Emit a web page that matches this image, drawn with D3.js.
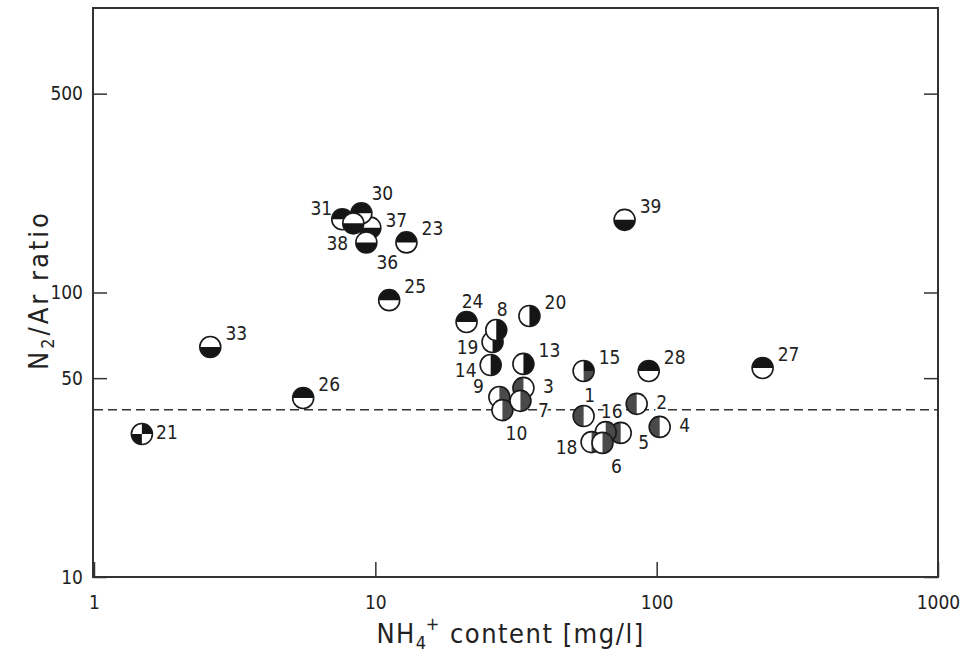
<!DOCTYPE html>
<html>
<head>
<meta charset="utf-8">
<script src="https://cdn.jsdelivr.net/npm/d3@7"></script>
<style>
  body { margin: 0; background: #fff; }
  svg text { font-family: "DejaVu Sans Condensed", "DejaVu Sans", sans-serif; font-stretch: condensed; fill: #222; }
</style>
</head>
<body>
<div id="chart"></div>
<script>
// sample numbers, in draw order (later ones sit on top)
var ids    = ["21","33","26","25","23","37","31","30","38","36","39","24","19","8","20","14","13","9","3","10","7","15","28","27","1","2","4","5","16","18","6"];
// NH4+ content [mg/l]
var nh4    = [1.48, 2.59, 5.54, 11.2, 12.9, 9.6, 7.63, 8.92, 8.35, 9.29, 76.9, 21.1, 26.1, 26.9, 35.3, 25.7, 33.6, 27.6, 33.6, 28.3, 32.8, 55, 93.7, 238, 55, 84.9, 102.5, 74.5, 65.9, 58.7, 64.2];
// N2/Ar ratio
var n2ar   = [31.8, 64.3, 42.6, 94, 150, 169, 181, 190, 175, 150, 180, 78.8, 67, 73.8, 82.7, 55.6, 56.1, 42.9, 46.2, 38.6, 41.6, 53, 53, 54.3, 36.8, 40.6, 33.7, 32.1, 32.3, 29.8, 29.6];
// symbol group of each sample
var groups = ["check","bottom","top","top","top","bottom","top","top","bottom","bottom","bottom","top","right","right","right","right","right","rightGray","leftGray","rightGray","rightGray","rightMix","top","top","leftGray","leftGray","leftGray","leftGray","rightGray","rightGray","rightGray"];
// where the number sits next to its symbol
var labelSide = ["e","ne","ne","ne","ne","ene","nw","nne","sw","se","ne","n","w","n","ne","w","ne","nw","e","s","ese","ne","ne","ne","n","e","e","ese","n","w","s"];

var xTicks = [1, 10, 100, 1000];
var yTicks = [10, 50, 100, 500];
var airLevel = 38.7;   // dashed reference line

var chart_width = 967, chart_height = 659;
var plotLeft = 93, plotRight = 938, plotTop = 8, plotBottom = 577;
var black = "#151515", gray = "#4a4a4a";
var PI = Math.PI;

// filled parts of each symbol: [start angle, end angle, colour]
var symbolParts = {
    top:       [[-PI/2, PI/2, black]],
    bottom:    [[PI/2, 3*PI/2, black]],
    right:     [[0, PI, black]],
    rightGray: [[0, PI, gray]],
    leftGray:  [[PI, 2*PI, gray]],
    check:     [[0, PI/2, black], [PI, 3*PI/2, black]],
    rightMix:  [[0, PI/2, black], [PI/2, PI, gray]]
};
var sideOffset = {
    e: [25, -2], ene: [26, -8], ne: [26, -14], nne: [21, -20], n: [6, -21], nw: [-21, -11],
    w: [-25, 5], sw: [-16, 20], se: [21, 20], s: [14, 23], ese: [23, 9]
};

var data = ids.map(function(id, i){
    return { id: id, x: nh4[i], y: n2ar[i], group: groups[i], side: labelSide[i] };
});

var svg = d3.select("#chart").append("svg")
    .attr("width", chart_width)
    .attr("height", chart_height);

var x = d3.scaleLog().domain([1, 1000]).range([plotLeft + 1, plotRight]);
var y = d3.scaleLog().domain([10, 1000]).range([plotBottom, plotTop]);

// axes (ticks point inward)
svg.append("g")
    .attr("transform", "translate(0," + plotBottom + ")")
    .call(d3.axisBottom(x).tickValues(xTicks).tickSize(-15).tickPadding(19).tickFormat(d3.format("d")))
    .call(function(g){ g.select(".domain").remove(); })
    .call(function(g){ g.selectAll("line").attr("stroke", "#333").attr("stroke-width", 1.5); })
    .call(function(g){ g.selectAll("text").attr("font-size", 19); });

svg.append("g")
    .attr("transform", "translate(" + plotLeft + ",0)")
    .call(d3.axisLeft(y).tickValues(yTicks).tickSize(-14).tickPadding(10).tickFormat(d3.format("d")))
    .call(function(g){ g.select(".domain").remove(); })
    .call(function(g){ g.selectAll("line").attr("stroke", "#333").attr("stroke-width", 1.5); })
    .call(function(g){ g.selectAll("text").attr("font-size", 19); });

svg.append("g")
    .attr("transform", "translate(" + plotRight + ",0)")
    .call(d3.axisRight(y).tickValues(yTicks).tickSize(-14).tickFormat(""))
    .call(function(g){ g.select(".domain").remove(); })
    .call(function(g){ g.selectAll("line").attr("stroke", "#333").attr("stroke-width", 1.5); });

// frame
svg.append("rect")
    .attr("x", plotLeft).attr("y", plotTop)
    .attr("width", plotRight - plotLeft).attr("height", plotBottom - plotTop)
    .attr("fill", "none")
    .attr("stroke", "#333")
    .attr("stroke-width", 2);

// dashed reference line
svg.append("line")
    .attr("x1", x(1)).attr("x2", x(1000))
    .attr("y1", y(airLevel)).attr("y2", y(airLevel))
    .attr("stroke", "#333")
    .attr("stroke-width", 1.6)
    .attr("stroke-dasharray", "9,5");

// labels (white halo hides the dashed line behind them)
svg.append("g").selectAll("text")
    .data(data)
    .enter()
    .append("text")
    .attr("x", function(d){ return x(d.x) + sideOffset[d.side][0]; })
    .attr("y", function(d){ return y(d.y) + sideOffset[d.side][1]; })
    .attr("text-anchor", "middle")
    .attr("dominant-baseline", "central")
    .attr("font-size", 19)
    .attr("stroke", "#fff")
    .attr("stroke-width", 4)
    .attr("paint-order", "stroke")
    .text(function(d){ return d.id; });

// symbols
var r = 10.5;
var arc = d3.arc().innerRadius(0).outerRadius(r);

var sym = svg.append("g").selectAll("g")
    .data(data)
    .enter()
    .append("g")
    .attr("transform", function(d){ return "translate(" + x(d.x) + "," + y(d.y) + ")"; });

sym.append("circle")
    .attr("r", r)
    .attr("fill", "#fff");

sym.selectAll("path")
    .data(function(d){ return symbolParts[d.group]; })
    .enter()
    .append("path")
    .attr("d", function(p){ return arc({ startAngle: p[0], endAngle: p[1] }); })
    .attr("fill", function(p){ return p[2]; });

sym.append("circle")
    .attr("r", r)
    .attr("fill", "none")
    .attr("stroke", "#1a1a1a")
    .attr("stroke-width", 1.6);

// axis titles
svg.append("text")
    .attr("transform", "translate(48,290) rotate(-90)")
    .attr("text-anchor", "middle")
    .attr("font-size", 27)
    .attr("letter-spacing", 3)
    .call(function(t){
        t.append("tspan").text("N");
        t.append("tspan").attr("font-size", 18).attr("dy", 6).text("2");
        t.append("tspan").attr("dy", -6).text("/Ar ratio");
    });

svg.append("text")
    .attr("x", (plotLeft + plotRight) / 2 - 5)
    .attr("y", 643)
    .attr("text-anchor", "middle")
    .attr("font-size", 27)
    .attr("letter-spacing", 1.5)
    .call(function(t){
        t.append("tspan").text("NH");
        t.append("tspan").attr("font-size", 18).attr("dy", 6).text("4");
        t.append("tspan").attr("font-size", 18).attr("dy", -19).attr("dx", -2).text("+");
        t.append("tspan").attr("dy", 13).text(" content [mg/l]");
    });
</script>
</body>
</html>
